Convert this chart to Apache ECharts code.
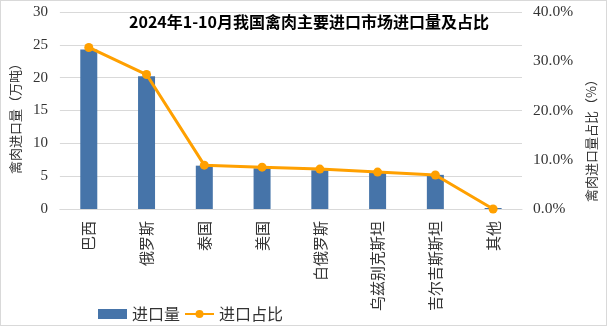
<!DOCTYPE html>
<html>
<head>
<meta charset="utf-8">
<script src="https://cdn.jsdelivr.net/npm/echarts@6/dist/echarts.min.js"></script>
<style>
html,body{margin:0;padding:0;background:#fff;}
#c{width:605px;height:324px;border:1px solid #d9d9d9;}
</style>
</head>
<body>
<div id="c"></div>
<script>
const categories = ['巴西','俄罗斯','泰国','美国','白俄罗斯','乌兹别克斯坦','吉尔吉斯斯坦','其他'];
const importVolume = [24.3, 20.2, 6.6, 6.2, 5.9, 5.6, 5.2, 0.15];
const importShare = [32.8, 27.3, 8.9, 8.5, 8.1, 7.5, 6.9, 0.0];
const leftTicks = {min: 0, max: 30, interval: 5};
const rightTicks = {min: 0, max: 40, interval: 10};

const serif = '"Liberation Serif","DejaVu Serif",serif';
const cjk = '"Noto Sans CJK SC","Noto Sans",sans-serif';

const chart = echarts.init(document.getElementById('c'));
chart.setOption({
  animation: false,
  title: {
    text: '2024年1-10月我国禽肉主要进口市场进口量及占比',
    left: 303, top: 8, textAlign: 'center',
    textStyle: {fontFamily: cjk, fontSize: 16, fontWeight: 'bold', color: '#000'}
  },
  grid: {left: 56, right: 82, top: 11, bottom: 116},
  legend: {
    left: 92, top: 300, itemGap: 4,
    textStyle: {fontFamily: cjk, fontSize: 16, color: '#333'},
    data: [
      {name: '进口量', icon: 'rect'},
      {name: '进口占比'}
    ],
    itemWidth: 29, itemHeight: 10
  },
  xAxis: {
    type: 'category',
    data: categories,
    axisLine: {lineStyle: {color: '#d9d9d9'}},
    axisTick: {show: false},
    axisLabel: {rotate: 90, fontFamily: cjk, fontSize: 15, color: '#333', margin: 12, interval: 0}
  },
  yAxis: [
    {
      type: 'value', min: leftTicks.min, max: leftTicks.max, interval: leftTicks.interval,
      name: '禽肉进口量（万吨）', nameLocation: 'middle', nameGap: 32,
      nameTextStyle: {fontFamily: cjk, fontSize: 13, color: '#333', padding: [0, 10, 0, 0]},
      axisLabel: {fontFamily: serif, fontSize: 15, color: '#333', margin: 12},
      splitLine: {lineStyle: {color: '#d9d9d9'}},
      axisLine: {show: false}, axisTick: {show: false}
    },
    {
      type: 'value', min: rightTicks.min, max: rightTicks.max, interval: rightTicks.interval,
      name: '禽肉进口量占比（%）', nameLocation: 'middle', nameGap: 63, nameRotate: 90,
      nameTextStyle: {fontFamily: cjk, fontSize: 13, color: '#333', padding: [0, 54, 0, 0]},
      axisLabel: {fontFamily: serif, fontSize: 15.5, color: '#333', margin: 11,
        formatter: v => v.toFixed(1) + '%'},
      splitLine: {show: false},
      axisLine: {show: false}, axisTick: {show: false}
    }
  ],
  series: [
    {
      name: '进口量', type: 'bar', data: importVolume, barWidth: 17,
      itemStyle: {color: '#4674a9'}
    },
    {
      name: '进口占比', type: 'line', yAxisIndex: 1, data: importShare,
      symbol: 'circle', symbolSize: 9,
      lineStyle: {color: '#ffa000', width: 3},
      itemStyle: {color: '#ffa000'}
    }
  ]
});
</script>
</body>
</html>
